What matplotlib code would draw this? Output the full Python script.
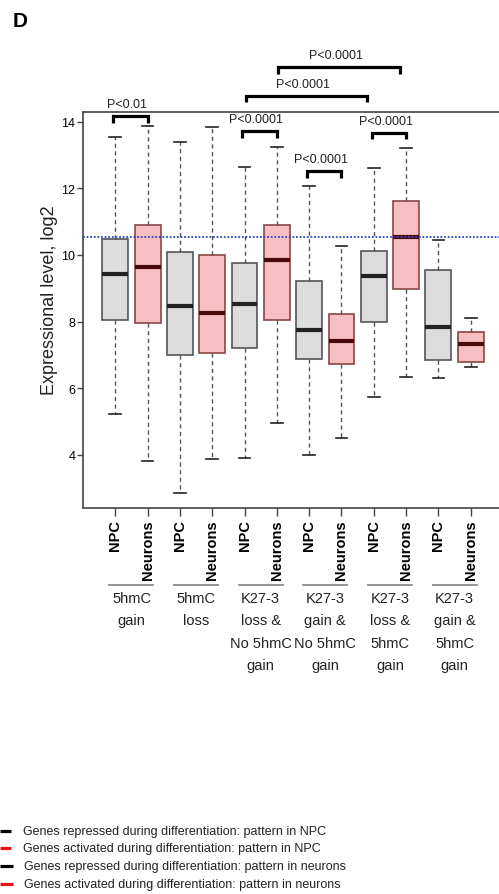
import matplotlib
matplotlib.use('Agg')
import matplotlib.pyplot as plt
import matplotlib.transforms as mtransforms
from matplotlib.lines import Line2D

plt.rcParams['font.family'] = ['Liberation Sans', 'DejaVu Sans']

cell_types = ['NPC', 'Neurons'] * 6
group_labels = ['5hmC\ngain', '5hmC\nloss',
                'K27-3\nloss &\nNo 5hmC\ngain', 'K27-3\ngain &\nNo 5hmC\ngain',
                'K27-3\nloss &\n5hmC\ngain', 'K27-3\ngain &\n5hmC\ngain']

whisker_low = [5.22, 3.81, 2.86, 3.89, 3.91, 4.96, 4.01, 4.51, 5.74, 6.33, 6.32, 6.64]
q1 = [8.04, 7.97, 7.00, 7.05, 7.21, 8.06, 6.88, 6.72, 7.98, 8.98, 6.86, 6.80]
medians = [9.42, 9.65, 8.47, 8.27, 8.54, 9.85, 7.74, 7.41, 9.37, 10.53, 7.85, 7.34]
q3 = [10.48, 10.91, 10.08, 9.99, 9.75, 10.91, 9.21, 8.22, 10.13, 11.62, 9.55, 7.69]
whisker_high = [13.55, 13.86, 13.40, 13.84, 12.65, 13.24, 12.08, 10.26, 12.62, 13.21, 10.46, 8.11]

reference_level = 10.55

# (left box, right box, bracket height, label)
comparisons = [
    (1, 2, 14.17, 'P<0.01'),
    (5, 6, 13.72, 'P<0.0001'),
    (7, 8, 12.51, 'P<0.0001'),
    (9, 10, 13.67, 'P<0.0001'),
    (5, 9, 14.78, 'P<0.0001'),
    (6, 10, 15.64, 'P<0.0001'),
]

legend_labels = ['Genes repressed during differentiation: pattern in NPC',
                 'Genes activated during differentiation: pattern in NPC',
                 'Genes repressed during differentiation: pattern in neurons',
                 'Genes activated during differentiation: pattern in neurons']
legend_colors = ['black', '#e8141c', 'black', '#e8141c']

W, H = 499, 895
fig = plt.figure(figsize=(W / 100, H / 100), dpi=100)
ax = fig.add_axes([83 / W, (H - 509) / H, 420 / W, 396 / H])

positions = list(range(1, 13))
stats = []
for lo, a, m, b, hi in zip(whisker_low, q1, medians, q3, whisker_high):
    stats.append(dict(whislo=lo, q1=a, med=m, q3=b, whishi=hi, fliers=[]))

bp = ax.bxp(stats, positions=positions, widths=0.8, patch_artist=True,
            showfliers=False, capwidths=0.36,
            whiskerprops=dict(color='#555555', linestyle=(0, (3, 2.5)), linewidth=1.0),
            capprops=dict(color='#222222', linewidth=1.2),
            medianprops=dict(linewidth=3.0, solid_capstyle='butt'))

for i, box in enumerate(bp['boxes']):
    if cell_types[i] == 'NPC':
        box.set_facecolor('#dcdcdc')
        box.set_edgecolor('#555555')
        bp['medians'][i].set_color('#222222')
    else:
        box.set_facecolor('#f8bfc2')
        box.set_edgecolor('#8a4646')
        bp['medians'][i].set_color('#4a0a0a')
    box.set_linewidth(1.2)

ax.axhline(reference_level, color='#2f45c0', linestyle=(0, (1, 1)), linewidth=1.3, zorder=5)

for a, b, y, label in comparisons:
    if b - a == 1:
        x1, x2 = a - 0.07, b
    else:
        x1, x2 = a + 0.04, b - 0.2
    ax.plot([x1, x1, x2, x2], [y - 0.2, y, y, y - 0.2], color='black', linewidth=2.3,
            solid_capstyle='butt', solid_joinstyle='miter', clip_on=False)
    ax.text((x1 + x2) / 2 - 0.1, y + 0.36, label, ha='center', va='center',
            fontsize=9, color='#222222', clip_on=False)

ax.set_xlim(0, 13)
ax.set_ylim(2.41, 14.29)
ax.set_yticks([4, 6, 8, 10, 12, 14])
ax.set_yticklabels(['4', '6', '8', '10', '12', '14'], fontsize=9)
ax.set_xticks(positions)
ax.set_xticklabels(cell_types, rotation=90, fontsize=10.5, fontweight='bold', va='top')
ax.tick_params(axis='y', length=4, width=1, color='#444444', pad=1.5)
ax.tick_params(axis='x', length=6, width=1, color='#444444', pad=2)
for side in ['left', 'bottom', 'top', 'right']:
    ax.spines[side].set_color('#444444')
    ax.spines[side].set_linewidth(1.2)

trans = mtransforms.blended_transform_factory(ax.transData, fig.transFigure)
for i, label in enumerate(group_labels):
    cx = 2 * i + 1.5
    fig.add_artist(Line2D([cx - 0.68, cx + 0.68], [(H - 586) / H] * 2, transform=trans,
                          color='#8c8c8c', linewidth=1.3))
    fig.text(cx, (H - 592) / H, label, transform=trans, ha='center', va='top',
             fontsize=10.5, linespacing=1.75, color='#222222')

fig.text(50 / W, (H - 300) / H, 'Expressional level, log2', rotation=90,
         ha='center', va='center', fontsize=13, color='#222222')
fig.text(13 / W, (H - 27) / H, 'D', fontsize=15, fontweight='bold', va='baseline')

legend_y = [832.3, 849, 866.7, 885]
for i, (label, color) in enumerate(zip(legend_labels, legend_colors)):
    y = (H - legend_y[i]) / H
    x_end = 11 if i < 2 else 13
    fig.add_artist(Line2D([0, x_end / W], [y, y], transform=fig.transFigure,
                          color=color, linewidth=2.3, solid_capstyle='butt'))
    fig.text((23 if i < 2 else 24) / W, y, label, ha='left', va='center',
             fontsize=9, color='#222222')

fig.savefig('out.png', dpi=100)
